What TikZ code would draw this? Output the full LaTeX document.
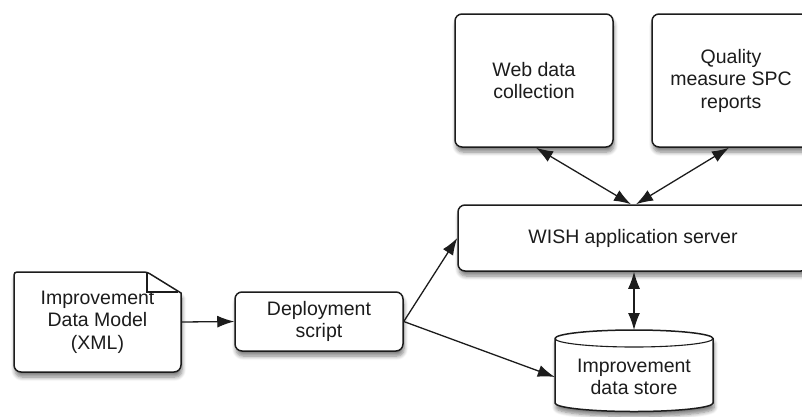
\documentclass[tikz,border=0pt]{standalone}
\usepackage{fontspec}
\setmainfont{Liberation Sans}
\usetikzlibrary{arrows.meta,shadows.blur}
\definecolor{ink}{HTML}{1C1C1C}
\tikzset{
  x=1pt,y=-1pt,
  shad/.style={blur shadow={shadow xshift=1pt,shadow yshift=-5pt,shadow blur steps=6,shadow blur radius=4pt,shadow opacity=50}},
  box/.style={draw=ink,line width=1.5pt,fill=white,rounded corners=7pt,align=center,text=ink,
    font=\fontsize{19.5}{22.5}\selectfont,inner sep=0pt,shad},
  txt/.style={align=center,text=ink,font=\fontsize{19.5}{22.5}\selectfont,inner sep=0pt},
  arr/.style={draw=ink,line width=1.3pt,-{Latex[length=17pt,width=12pt]}},
  darr/.style={draw=ink,line width=1.3pt,{Latex[length=17pt,width=12pt]}-{Latex[length=17pt,width=12pt]}},
}
\begin{document}
\begin{tikzpicture}
\useasboundingbox (0,0) rectangle (802,416);
% document shape
\filldraw[draw=ink,line width=1.5pt,fill=white,shad]
  (14,279) [rounded corners=3pt] -- (14,272) -- (147,272) [sharp corners] -- (181,293) [rounded corners=7pt] -- (181,372) -- (14,372) [sharp corners] -- (14,279);
\draw[ink,line width=1.1pt] (147,272) -- (147,292) -- (178,292);
\node[txt,minimum width=167pt,minimum height=100pt] (doc) at (97.5,322) {Improvement\\Data Model\\(XML)};
% boxes
\node[box,minimum width=168pt,minimum height=59pt] (deploy) at (319,321.5) {Deployment\\script};
\node[box,minimum width=350pt,minimum height=66pt] (wish) at (633,238) {WISH application server};
\node[box,minimum width=158pt,minimum height=133pt] (web) at (534,80.5) {Web data\\collection};
\node[box,minimum width=158pt,minimum height=133pt] (qual) at (731,80.5) {Quality\\measure SPC\\reports};
% cylinder
\filldraw[draw=ink,line width=1.5pt,fill=white,shad]
  (555,338.5) -- (555,403) arc[start angle=180,end angle=360,x radius=79pt,y radius=8.5pt]
  -- (713,338.5) arc[start angle=0,end angle=180,x radius=79pt,y radius=8.5pt] -- cycle;
\draw[ink,line width=1.1pt] (555,338.5) arc[start angle=180,end angle=360,x radius=79pt,y radius=8.5pt];
\node[txt,minimum width=158pt,minimum height=70pt] (store) at (634,377) {Improvement\\data store};
\coordinate (storetop) at (634,330);
% connectors
\draw[arr] (doc.east) -- (deploy.west);
\draw[arr] (deploy.east) -- (wish.west);
\draw[arr] (deploy.east) -- (store.west);
\draw[darr] ([xshift=2pt]web.south) -- ([xshift=-2pt]wish.north);
\draw[darr] ([xshift=-2pt]qual.south) -- ([xshift=3pt]wish.north);
\draw[darr] ([xshift=1pt]wish.south) -- (storetop);
\end{tikzpicture}
\end{document}
